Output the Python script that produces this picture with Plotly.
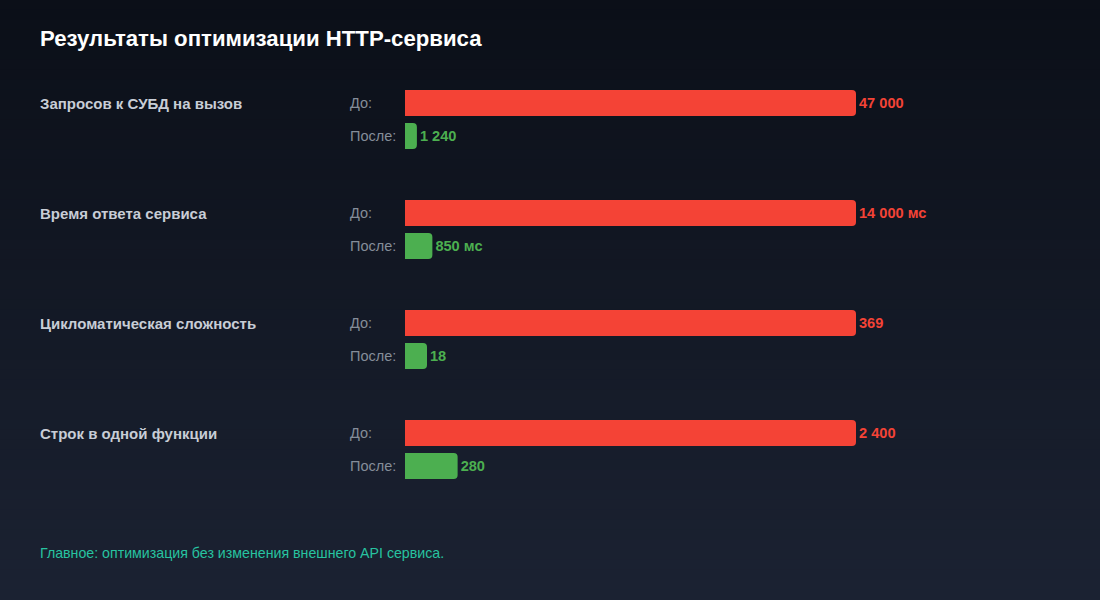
import plotly.graph_objects as go

# ---- data ----
categories = ["Запросов к СУБД на вызов", "Время ответа сервиса",
              "Цикломатическая сложность", "Строк в одной функции"]
before_values = [47000, 14000, 369, 2400]
after_values = [1240, 850, 18, 280]
units = ["", " мс", "", ""]
before_label = "До:"
after_label = "После:"
title_text = "Результаты оптимизации HTTP-сервиса"
footer_text = "Главное: оптимизация без изменения внешнего API сервиса."

RED = "#f44336"
GREEN = "#4caf50"
FONT = "Liberation Sans, Arial, sans-serif"

PLOT_L = 405
PLOT_W = 451


def fmt(v):
    return f"{v:,}".replace(",", " ")


def px_to_paper_x(px):
    return (px - PLOT_L) / PLOT_W


# layout positions (row index based)
ROW_GAP = 0.3
y_before = [i for i in range(len(categories))]
y_after = [i + ROW_GAP for i in range(len(categories))]

x_before = [100.0 for _ in before_values]
x_after = [a / b * 100.0 for a, b in zip(after_values, before_values)]

fig = go.Figure()
fig.add_trace(go.Bar(
    y=y_before, x=x_before, orientation="h", width=0.236,
    marker=dict(color=RED, line=dict(width=0)),
    text=[fmt(v) + u for v, u in zip(before_values, units)],
    textposition="outside", cliponaxis=False,
    textfont=dict(color=RED, size=14.6, family=FONT, weight="bold"),
    hoverinfo="skip",
))
fig.add_trace(go.Bar(
    y=y_after, x=x_after, orientation="h", width=0.236,
    marker=dict(color=GREEN, line=dict(width=0)),
    text=[fmt(v) + u for v, u in zip(after_values, units)],
    textposition="outside", cliponaxis=False,
    textfont=dict(color=GREEN, size=14.6, family=FONT, weight="bold"),
    hoverinfo="skip",
))

annotations = []
for i, cat in enumerate(categories):
    annotations.append(dict(
        xref="paper", yref="y", x=px_to_paper_x(38), y=y_before[i], xanchor="left",
        yanchor="middle", text=f"<b>{cat}</b>", showarrow=False,
        font=dict(color="#c8cdd6", size=15, family=FONT)))
    annotations.append(dict(
        xref="paper", yref="y", x=px_to_paper_x(348), y=y_before[i], xanchor="left",
        yanchor="middle", text=before_label, showarrow=False,
        font=dict(color="#858d99", size=14.5, family=FONT)))
    annotations.append(dict(
        xref="paper", yref="y", x=px_to_paper_x(348), y=y_after[i], xanchor="left",
        yanchor="middle", text=after_label, showarrow=False,
        font=dict(color="#858d99", size=14.5, family=FONT)))

# title & footer
annotations.append(dict(
    xref="paper", yref="paper", x=px_to_paper_x(38), y=1 - 38 / 600, xanchor="left",
    yanchor="middle", text=f"<b>{title_text}</b>", showarrow=False,
    font=dict(color="#ffffff", size=22.2, family=FONT)))
annotations.append(dict(
    xref="paper", yref="paper", x=px_to_paper_x(38), y=1 - 553 / 600, xanchor="left",
    yanchor="middle", text=footer_text, showarrow=False,
    font=dict(color="#27c3a0", size=14.2, family=FONT)))

# background gradient bands
shapes = []
N = 60
top = (11, 15, 24)
bot = (27, 34, 50)
for k in range(N):
    t = k / (N - 1)
    c = tuple(round(top[j] + (bot[j] - top[j]) * t) for j in range(3))
    shapes.append(dict(
        type="rect", xref="paper", yref="paper",
        x0=-1, x1=2, y0=1 - (k + 1) / N - 0.001, y1=1 - k / N + 0.001,
        fillcolor="rgb(%d,%d,%d)" % c, line=dict(width=0), layer="below"))

units_per_px = 1 / 110
y_top = -103 * units_per_px
y_bottom = y_top + 600 * units_per_px

fig.update_layout(
    width=1100, height=600,
    margin=dict(l=PLOT_L, r=1100 - PLOT_L - PLOT_W, t=0, b=0),
    paper_bgcolor="#121826", plot_bgcolor="rgba(0,0,0,0)",
    barmode="overlay", barcornerradius=4,
    showlegend=False,
    xaxis=dict(range=[0, 100], visible=False, fixedrange=True),
    yaxis=dict(range=[y_bottom, y_top], visible=False, fixedrange=True),
    annotations=annotations, shapes=shapes,
    font=dict(family=FONT),
)

fig.write_html("out.html")
